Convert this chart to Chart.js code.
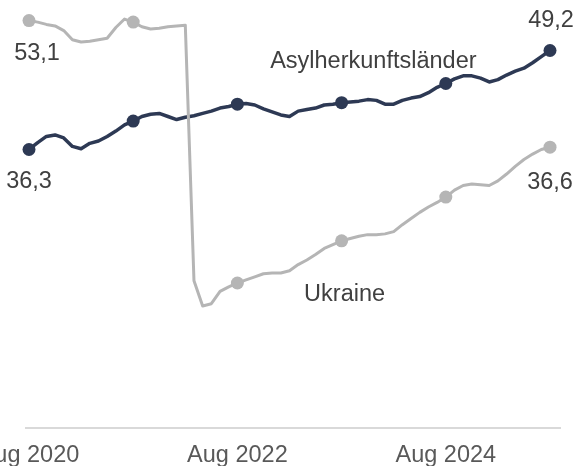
<!DOCTYPE html>
<html>
<head>
<meta charset="utf-8">
<script src="https://cdn.jsdelivr.net/npm/chart.js@4.4.1/dist/chart.umd.min.js"></script>
<style>
html,body{margin:0;padding:0;background:#fff;}
#wrap{width:577px;height:466px;position:relative;}
</style>
</head>
<body>
<div id="wrap"><canvas id="c" width="577" height="466"></canvas></div>
<script>
const months = [
 'Aug 2020','Sep 2020','Okt 2020','Nov 2020','Dez 2020',
 'Jan 2021','Feb 2021','Mär 2021','Apr 2021','Mai 2021','Jun 2021','Jul 2021','Aug 2021','Sep 2021','Okt 2021','Nov 2021','Dez 2021',
 'Jan 2022','Feb 2022','Mär 2022','Apr 2022','Mai 2022','Jun 2022','Jul 2022','Aug 2022','Sep 2022','Okt 2022','Nov 2022','Dez 2022',
 'Jan 2023','Feb 2023','Mär 2023','Apr 2023','Mai 2023','Jun 2023','Jul 2023','Aug 2023','Sep 2023','Okt 2023','Nov 2023','Dez 2023',
 'Jan 2024','Feb 2024','Mär 2024','Apr 2024','Mai 2024','Jun 2024','Jul 2024','Aug 2024','Sep 2024','Okt 2024','Nov 2024','Dez 2024',
 'Jan 2025','Feb 2025','Mär 2025','Apr 2025','Mai 2025','Jun 2025','Jul 2025','Aug 2025'
];
const asylherkunft = [36.3,37.2,38.0,38.2,37.8,36.7,36.4,37.1,37.4,38.0,
 38.7,39.5,40.0,40.6,40.9,41.0,40.6,40.2,40.5,40.7,
 41.0,41.3,41.7,41.9,42.2,42.3,42.1,41.6,41.2,40.8,
 40.6,41.3,41.5,41.7,42.1,42.2,42.4,42.5,42.6,42.8,
 42.7,42.2,42.2,42.7,43.0,43.2,43.7,44.4,44.9,45.5,
 45.9,45.9,45.6,45.1,45.4,46.0,46.5,46.9,47.6,48.4,
 49.2];
const ukraine = [53.1,52.9,52.6,52.4,51.8,50.6,50.3,50.4,50.6,50.8,
 52.2,53.3,52.9,52.3,52.0,52.1,52.3,52.4,52.5,19.2,
 15.9,16.2,17.8,18.4,18.9,19.3,19.7,20.1,20.2,20.2,
 20.5,21.3,21.9,22.6,23.4,23.9,24.4,24.7,25.0,25.2,
 25.2,25.3,25.6,26.5,27.3,28.1,28.8,29.4,30.1,31.0,
 31.6,31.8,31.7,31.6,32.2,33.1,34.1,35.0,35.7,36.3,
 36.6];
const tickLabels = ['Aug 2020','Aug 2022','Aug 2024'];
const seriesNames = ['Ukraine','Asylherkunftsländer'];

const FONT = '"Liberation Sans", Arial, sans-serif';
const DARK = '#2d3954';
const GRAY = '#b5b5b5';
const fmt = v => v.toFixed(1).replace('.', ',');

const annotate = {
  id: 'annotate',
  beforeDatasetsDraw(chart) {
    const {ctx, scales: {x, y}} = chart;
    const n = months.length - 1;
    ctx.save();
    ctx.strokeStyle = '#d9d9d9';
    ctx.lineWidth = 2;
    ctx.beginPath();
    ctx.moveTo(x.getPixelForValue(0) - 4, y.getPixelForValue(0));
    ctx.lineTo(x.getPixelForValue(n) + 11, y.getPixelForValue(0));
    ctx.stroke();
    ctx.restore();
  },
  afterDatasetsDraw(chart) {
    const {ctx, scales: {x, y}} = chart;
    const n = months.length - 1;
    ctx.save();
    ctx.font = '23.5px ' + FONT;
    ctx.fillStyle = '#404040';
    ctx.textAlign = 'center';
    ctx.textBaseline = 'middle';
    const put = (txt, i, v, dx, dy) => ctx.fillText(txt, x.getPixelForValue(i) + dx, y.getPixelForValue(v) + dy);
    put(fmt(ukraine[0]), 0, ukraine[0], 8, 33);
    put(fmt(asylherkunft[0]), 0, asylherkunft[0], 0, 32);
    put(fmt(asylherkunft[n]), n, asylherkunft[n], 1, -30);
    put(fmt(ukraine[n]), n, ukraine[n], 0, 35);
    put(seriesNames[1], 40, asylherkunft[40], -3, -39);
    put(seriesNames[0], 36, ukraine[36], 3, 54);
    ctx.restore();
  }
};

const markerR = c => (c.dataIndex % 12 === 0 ? 6.5 : 0);

new Chart(document.getElementById('c'), {
  type: 'line',
  data: {
    labels: months,
    datasets: [
      { label: seriesNames[0], data: ukraine, borderColor: GRAY, backgroundColor: GRAY,
        borderWidth: 3, pointRadius: markerR, pointHoverRadius: markerR, pointBorderWidth: 0,
        tension: 0, borderJoinStyle: 'round', borderCapStyle: 'round', clip: false },
      { label: seriesNames[1], data: asylherkunft, borderColor: DARK, backgroundColor: DARK,
        borderWidth: 3.5, pointRadius: markerR, pointHoverRadius: markerR, pointBorderWidth: 0,
        tension: 0, borderJoinStyle: 'round', borderCapStyle: 'round', clip: false }
    ]
  },
  options: {
    responsive: false,
    animation: false,
    events: [],
    layout: { autoPadding: false, padding: { left: 29, right: 27, top: 6, bottom: 0 } },
    plugins: { legend: { display: false }, tooltip: { enabled: false } },
    scales: {
      x: {
        type: 'category',
        offset: false,
        grid: { display: false, drawTicks: false },
        border: { display: false },
        afterFit(s) { s.height = 38; s.paddingLeft = 0; s.paddingRight = 0; s.paddingTop = 0; s.paddingBottom = 0; },
        ticks: {
          autoSkip: false, maxRotation: 0, minRotation: 0, padding: 13,
          color: '#595959', font: { family: FONT, size: 23.5 },
          callback(v) { const l = this.getLabelForValue(v); return tickLabels.includes(l) ? l : null; }
        }
      },
      y: { display: false, min: 0, max: 55 }
    }
  },
  plugins: [annotate]
});
</script>
</body>
</html>
